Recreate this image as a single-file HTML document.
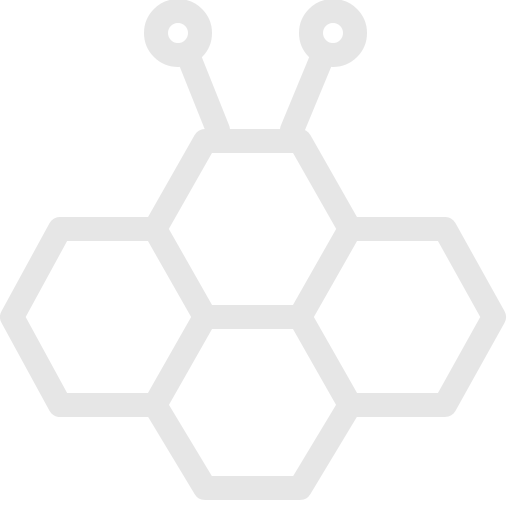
<!DOCTYPE html>
<html><head><meta charset="utf-8"><style>
html,body{margin:0;padding:0;background:#fff;width:507px;height:512px;overflow:hidden}
svg{display:block}
</style></head><body>
<svg width="507" height="512" viewBox="0 0 507 512" fill="none" stroke="#e6e6e6" stroke-width="24" stroke-linejoin="round" stroke-linecap="round">
  <circle cx="178" cy="33" r="22"/>
  <circle cx="333" cy="33" r="22"/>
  <line x1="190" y1="60" x2="218" y2="130"/>
  <line x1="321" y1="60" x2="292" y2="130"/>
  <polygon points="205,317 155,229 205,141 300,141 350,229 300,317"/>
  <polygon points="155,229 205,317 155,405 60,405 12,317 60,229"/>
  <polygon points="350,229 445,229 494,317 445,405 350,405 300,317"/>
  <polygon points="205,317 300,317 350,405 300,488 205,488 155,405"/>
</svg>
</body></html>
